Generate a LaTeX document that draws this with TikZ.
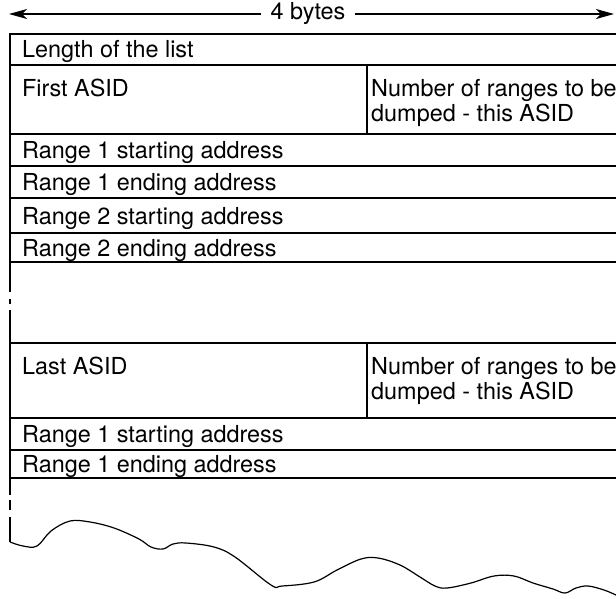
\documentclass[tikz,border=0pt]{standalone}
\usepackage{fontspec}
\setmainfont{TeX Gyre Heros}
\usetikzlibrary{arrows.meta}
\tikzset{
	cell/.style = {anchor = base west, inner sep = 0pt, font = \fontsize{23.4}{24.5}\selectfont},
	twoline/.style = {anchor = north west, inner sep = 0pt, align = left, font = \fontsize{23.4}{24.5}\selectfont},
	rule/.style = {line width = 1.2pt, line cap = rect},
	gap/.style = {line width = 1.2pt, dash pattern = on 30pt off 7pt on 5pt off 6pt on 60pt}
}

\begin{document}
\begin{tikzpicture}[x = 1pt, y = -1pt]
		\useasboundingbox (0,0) rectangle (616,598);
		%
		\coordinate (arrL) at (9,14);
		\coordinate (arrR) at (614,14);
		\node (bytes)[fill = white, inner xsep = 9pt, font = \fontsize{23.4}{24.5}\selectfont] at (308,14){4 bytes};
		\draw[line width = 1.2pt, -{Stealth[length = 18pt, width = 10pt, inset = 5pt]}] (bytes.west) -- (arrL);
		\draw[line width = 1.2pt, -{Stealth[length = 18pt, width = 10pt, inset = 5pt]}] (bytes.east) -- (arrR);
		%
		\foreach \y in {34,65,134,166,198,233,262} \draw[rule] (10,\y) -- (616,\y);
		\draw[rule] (10,34) -- (10,262);
		\draw[rule] (367,65) -- (367,134);
		\node (lenlist)[cell] at (22,57){Length of the list};
		\node (firstasid)[cell] at (22,96){First ASID};
		\node (nranges1)[twoline] at (371,79.5){Number of ranges to be\\dumped - this ASID};
		\node (r1start)[cell] at (22,158){Range 1 starting address};
		\node (r1end)[cell] at (22,190){Range 1 ending address};
		\node (r2start)[cell] at (22,224){Range 2 starting address};
		\node (r2end)[cell] at (22,256){Range 2 ending address};
		%
		\draw[gap] (10,262) -- (10,343);
		%
		\foreach \y in {343,418,450,478} \draw[rule] (10,\y) -- (616,\y);
		\draw[rule] (10,343) -- (10,478);
		\draw[rule] (367,343) -- (367,418);
		\node (lastasid)[cell] at (22,374){Last ASID};
		\node (nranges2)[twoline] at (371,357.5){Number of ranges to be\\dumped - this ASID};
		\node (r1startb)[cell] at (22,442){Range 1 starting address};
		\node (r1endb)[cell] at (22,472){Range 1 ending address};
		%
		\draw[line width = 1.2pt, dash pattern = on 17pt off 5pt on 10pt off 7pt on 40pt] (10,478) -- (10,542);
		\draw[line width = 1.2pt, line join = round] plot[smooth, tension = 0.6] coordinates {(10,542) (23,546) (37,546) (51,531) (70,521) (90,522) (114,528) (139,539) (151,547) (163,549) (173,544) (186,543) (214,547) (235,557) (271,585) (282,586) (314,582) (337,570) (361,559) (378,558) (400,565) (420,577) (435,586) (447,588) (471,583) (494,576) (514,576) (533,583) (553,589) (565,593) (576,588) (588,586) (604,590) (616,595)};
	\end{tikzpicture}
\end{document}
